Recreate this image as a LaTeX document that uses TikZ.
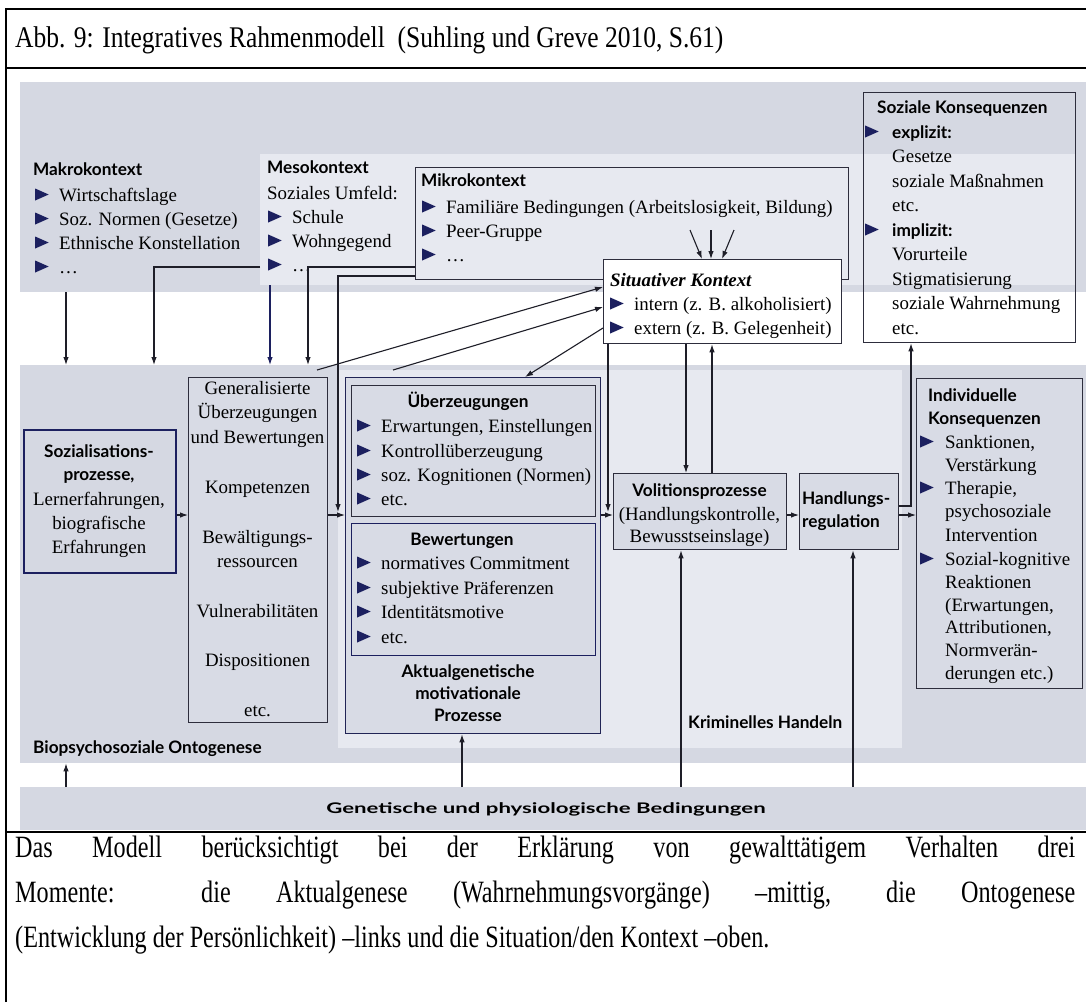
\documentclass[tikz,border=0pt]{standalone}
\usepackage{fontspec}
\usepackage{graphicx}
\setmainfont{Liberation Serif}
\newfontfamily\lsans{Lato}
\usetikzlibrary{arrows.meta}
\definecolor{gDark}{RGB}{213,216,226}
\definecolor{gLight}{RGB}{231,233,240}
\definecolor{boxF}{RGB}{216,219,229}
\definecolor{navyc}{RGB}{28,32,95}
\definecolor{linec}{RGB}{30,30,40}
\definecolor{boxc}{RGB}{45,45,60}
\newcommand\bul{\tikz[baseline=0pt,x=1pt,y=1pt]\fill[navyc](0,0.5)--(0,12.5)--(13.5,6.5)--cycle;}
\newcommand\bi{\makebox[24pt][l]{\bul}}
\newcommand\bk{\makebox[25pt][l]{\bul}}
\newcommand\bodyfont{\fontsize{18.9}{22}\selectfont}
\newcommand\sansbf{\lsans\bfseries\fontsize{17.2}{20}\selectfont}
\newcommand\bigfont{\fontsize{30}{32}\selectfont}
\newcommand\capfont{\fontsize{31}{33}\selectfont}
\begin{document}
\begin{tikzpicture}[x=1pt,y=-1pt,
  band/.style={inner sep=0pt,anchor=north west,draw=none},
  bx/.style={inner sep=0pt,anchor=north west,draw=boxc,line width=1.3pt},
  tl/.style={anchor=base west,inner sep=0pt,font=\bodyfont},
  tc/.style={anchor=base,inner sep=0pt,font=\bodyfont},
  sl/.style={anchor=base west,inner sep=0pt,font=\sansbf},
  sc/.style={anchor=base,inner sep=0pt,font=\sansbf},
  arr/.style={-{Latex[length=8pt,width=5.5pt]},line width=1.1pt,draw=linec},
  frame/.style={line width=2.6pt,draw=black}]
\useasboundingbox (0,0) rectangle (1086,1002);
\fill[white] (0,0) rectangle (1086,1002);

% ---------- bands ----------
\node[band,fill=gDark,minimum width=1066pt,minimum height=210pt] (topband) at (20,82) {};
\node[band,fill=gLight,minimum width=815pt,minimum height=131pt] (topinset) at (260,154) {};
\node[band,fill=gDark,minimum width=1066pt,minimum height=398pt] (midband) at (20,365) {};
\node[band,fill=gLight,minimum width=564pt,minimum height=378pt] (midinset) at (338,370) {};
\node[band,fill=gDark,minimum width=1066pt,minimum height=43pt] (botband) at (20,787) {};

% ---------- boxes ----------
\node[bx,fill=gLight,minimum width=433pt,minimum height=112pt] (mikro) at (415,167) {};
\node[bx,fill=white,minimum width=238pt,minimum height=84pt] (situ) at (603,259) {};
\node[bx,minimum width=212pt,minimum height=250pt] (sozk) at (863,92) {};
\node[bx,fill=boxF,minimum width=166pt,minimum height=310pt] (indiv) at (916,378) {};
\node[bx,draw=navyc,fill=gDark,line width=1.6pt,minimum width=152pt,minimum height=143pt] (sozial) at (23,429) {};
\node[bx,fill=boxF,minimum width=139pt,minimum height=345pt] (gen) at (188,377) {};
\node[bx,draw=navyc!70!boxc,fill=boxF,minimum width=255pt,minimum height=356pt] (aktual) at (345,377) {};
\node[bx,fill=boxF,minimum width=244pt,minimum height=131pt] (ueber) at (351,385) {};
\node[bx,draw=navyc,fill=boxF,minimum width=244pt,minimum height=132pt] (bewert) at (351,523) {};
\node[bx,fill=boxF,minimum width=173pt,minimum height=76pt] (vol) at (613,473) {};
\node[bx,fill=boxF,minimum width=99pt,minimum height=76pt] (hand) at (799,473) {};

% ---------- texts ----------
\node[sl] (mk0) at (33,175) {Makrokontext};
\node[tl] (mk1) at (35,201) {\bi Wirtschaftslage};
\node[tl] (mk2) at (35,225) {\bi Soz. Normen (Gesetze)};
\node[tl] (mk3) at (35,249) {\bi Ethnische Konstellation};
\node[tl] (mk4) at (35,273) {\bi …};

\node[sl] (ms0) at (267,173) {Mesokontext};
\node[tl] (ms1) at (267,199) {Soziales Umfeld:};
\node[tl] (ms2) at (268,223) {\bi Schule};
\node[tl] (ms3) at (268,247) {\bi Wohngegend};
\node[tl] (ms4) at (268,271) {\bi …};

\node[sl] (mi0) at (421,186) {Mikrokontext};
\node[tl] (mi1) at (422,213) {\bi Familiäre Bedingungen (Arbeitslosigkeit, Bildung)};
\node[tl] (mi2) at (422,237) {\bi Peer-Gruppe};
\node[tl] (mi3) at (422,261) {\bi …};

\node[tl] (si0) at (610,286) {\bfseries\itshape Situativer Kontext};
\node[tl] (si1) at (610,310) {\bi intern (z. B. alkoholisiert)};
\node[tl] (si2) at (610,334) {\bi extern (z. B. Gelegenheit)};

\node[sl] (sk0) at (877,113) {Soziale Konsequenzen};
\node[sl] (sk1) at (865,138) {\makebox[27pt][l]{\bul}explizit:};
\node[tl] (sk2) at (892,162) {Gesetze};
\node[tl] (sk3) at (892,187) {soziale Maßnahmen};
\node[tl] (sk4) at (892,211) {etc.};
\node[sl] (sk5) at (865,236) {\makebox[27pt][l]{\bul}implizit:};
\node[tl] (sk6) at (892,260) {Vorurteile};
\node[tl] (sk7) at (892,285) {Stigmatisierung};
\node[tl] (sk8) at (892,309) {soziale Wahrnehmung};
\node[tl] (sk9) at (892,334) {etc.};

\node[sl] (ik0) at (928,401) {Individuelle};
\node[sl] (ik1) at (928,424) {Konsequenzen};
\node[tl] (ik2) at (920,448) {\bk Sanktionen,};
\node[tl] (ik3) at (945,471) {Verstärkung};
\node[tl] (ik4) at (920,494) {\bk Therapie,};
\node[tl] (ik5) at (945,517) {psychosoziale};
\node[tl] (ik6) at (945,541) {Intervention};
\node[tl] (ik7) at (920,565) {\bk Sozial-kognitive};
\node[tl] (ik8) at (945,588) {Reaktionen};
\node[tl] (ik9) at (945,611) {(Erwartungen,};
\node[tl] (ik10) at (945,633) {Attributionen,};
\node[tl] (ik11) at (945,656) {Normverän-};
\node[tl] (ik12) at (945,679) {derungen etc.)};

\node[sc] (so0) at (99,457) {Sozialisations-};
\node[sc] (so1) at (99,480) {prozesse,};
\node[tc] (so2) at (99,505) {Lernerfahrungen,};
\node[tc] (so3) at (99,529) {biografische};
\node[tc] (so4) at (99,553) {Erfahrungen};

\node[tc] (g0) at (257.5,394) {Generalisierte};
\node[tc] (g1) at (257.5,418) {Überzeugungen};
\node[tc] (g2) at (257.5,443) {und Bewertungen};
\node[tc] (g3) at (257.5,493) {Kompetenzen};
\node[tc] (g4) at (257.5,543) {Bewältigungs-};
\node[tc] (g5) at (257.5,567) {ressourcen};
\node[tc] (g6) at (257.5,617) {Vulnerabilitäten};
\node[tc] (g7) at (257.5,666) {Dispositionen};
\node[tc] (g8) at (257.5,716) {etc.};

\node[sc] (u0) at (468,407) {Überzeugungen};
\node[tl] (u1) at (357,432) {\bi Erwartungen, Einstellungen};
\node[tl] (u2) at (357,457) {\bi Kontrollüberzeugung};
\node[tl] (u3) at (357,481) {\bi soz. Kognitionen (Normen)};
\node[tl] (u4) at (357,505) {\bi etc.};
\node[sc] (b0) at (462,545) {Bewertungen};
\node[tl] (b1) at (357,569) {\bi normatives Commitment};
\node[tl] (b2) at (357,594) {\bi subjektive Präferenzen};
\node[tl] (b3) at (357,618) {\bi Identitätsmotive};
\node[tl] (b4) at (357,643) {\bi etc.};
\node[sc] (a0) at (468,677) {Aktualgenetische};
\node[sc] (a1) at (468,699) {motivationale};
\node[sc] (a2) at (468,721) {Prozesse};

\node[sc] (v0) at (699.5,496) {Volitionsprozesse};
\node[tc] (v1) at (699.5,520) {(Handlungskontrolle,};
\node[tc] (v2) at (699.5,542) {Bewusstseinslage)};

\node[sl] (h0) at (802,504) {Handlungs-};
\node[sl] (h1) at (802,527) {regulation};

\node[sl] (bio) at (33,753) {Biopsychosoziale Ontogenese};
\node[sl] (krim) at (688,728) {Kriminelles Handeln};
\node[sc] (genet) at (546,813) {\scalebox{1.29}[0.85]{Genetische und physiologische Bedingungen}};

% ---------- helper coordinates ----------
\coordinate (yA) at (0,515);
\coordinate (yB) at (0,506);
\coordinate (yM1) at (0,267);
\coordinate (yM2) at (0,276);
\coordinate (x66) at (66,0);
\coordinate (x154) at (154,0);
\coordinate (x270) at (270,0);
\coordinate (x308) at (308,0);
\coordinate (x338) at (338,0);
\coordinate (x462) at (462,0);
\coordinate (x525) at (525,0);
\coordinate (x608) at (608,0);
\coordinate (x681) at (681,0);
\coordinate (x686) at (686,0);
\coordinate (x712) at (712,0);
\coordinate (x853) at (853,0);
\coordinate (x911) at (911,0);
\coordinate (s1) at (317,370);
\coordinate (s2) at (393,370);
\coordinate (m1) at (690,230);
\coordinate (m2) at (711,230);
\coordinate (m3) at (734,230);
\coordinate (n1) at (702,0);
\coordinate (n2) at (711,0);
\coordinate (n3) at (722,0);

% ---------- connectors ----------
\draw[arr] (x66 |- topband.south) -- (x66 |- midband.north);
\draw[arr] (topinset.west |- yM1) -- (x154 |- yM1) -- (x154 |- midband.north);
\draw[arr,draw=navyc] (x270 |- topinset.south) -- (x270 |- midband.north);
\draw[arr] (mikro.west |- yM1) -- (x308 |- yM1) -- (x308 |- midband.north);
\draw[arr,shorten >=3pt] (mikro.west |- yM2) -- (x338 |- yM2) -- (x338 |- yA);
\draw[arr] (s1) -- (situ.west |- 0,287);
\draw[arr] (s2) -- (situ.west |- 0,307);
\draw[arr] (situ.west |- 0,328) -- (x525 |- aktual.north);
\draw[arr] (m1) -- (n1 |- situ.north);
\draw[arr] (m2) -- (n2 |- situ.north);
\draw[arr] (m3) -- (n3 |- situ.north);
\draw[arr] (x686 |- situ.south) -- (x686 |- vol.north);
\draw[arr] (x712 |- vol.north) -- (x712 |- situ.south);
\draw[arr,shorten >=3pt] (x608 |- situ.south) -- (x608 |- yA);
\draw[arr] (sozial.east |- yA) -- (gen.west |- yA);
\draw[arr] (gen.east |- yA) -- (aktual.west |- yA);
\draw[arr] (aktual.east |- yA) -- (vol.west |- yA);
\draw[arr] (vol.east |- yA) -- (hand.west |- yA);
\draw[arr] (hand.east |- yA) -- (indiv.west |- yA);
\draw[arr] (hand.east |- yB) -- (x911 |- yB) -- (x911 |- sozk.south);
\draw[arr] (x66 |- botband.north) -- (x66 |- midband.south);
\draw[arr] (x462 |- botband.north) -- (x462 |- aktual.south);
\draw[arr] (x681 |- botband.north) -- (x681 |- vol.south);
\draw[arr] (x853 |- botband.north) -- (x853 |- hand.south);

% ---------- frame, title, caption ----------
\draw[frame] (6,1002) -- (6,9) -- (1086,9);
\draw[frame] (6,68) -- (1086,68);
\draw[frame] (6,832) -- (1086,832);
\node[anchor=base west,inner sep=0pt] (title) at (15,47) {\scalebox{0.85}[1]{\bigfont Abb. 9: Integratives Rahmenmodell\ \ (Suhling und Greve 2010, S.61)}};
\node[anchor=base west,inner sep=0pt] (cap1) at (15,857) {\scalebox{0.78}[1]{\capfont\makebox[1359pt][s]{Das Modell berücksichtigt bei der Erklärung von gewalttätigem Verhalten drei}}};
\node[anchor=base west,inner sep=0pt] (cap2) at (15,902) {\scalebox{0.78}[1]{\capfont\makebox[1359pt][s]{Momente: die Aktualgenese (Wahrnehmungsvorgänge) –mittig, die Ontogenese}}};
\node[anchor=base west,inner sep=0pt] (cap3) at (15,947) {\scalebox{0.78}[1]{\capfont (Entwicklung der Persönlichkeit) –links und die Situation/den Kontext –oben.}};
\end{tikzpicture}
\end{document}
